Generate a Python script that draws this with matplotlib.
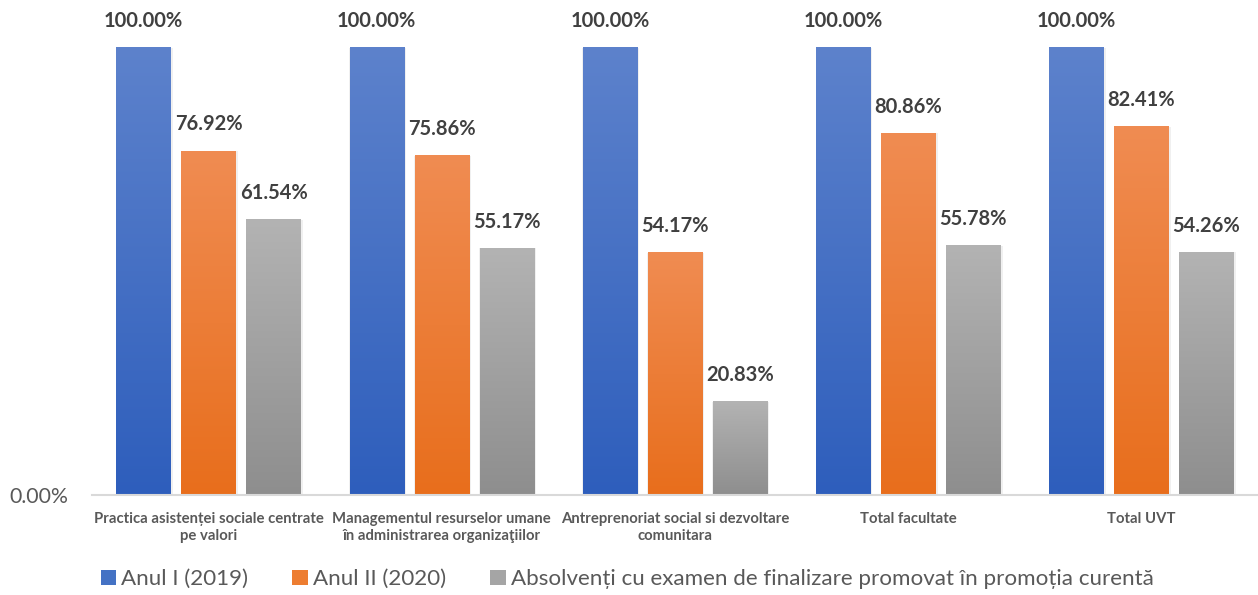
import numpy as np
import matplotlib.pyplot as plt
from matplotlib.colors import LinearSegmentedColormap

# Data
categories = ['Practica asistenței sociale centrate\npe valori',
              'Managementul resurselor umane\nîn administrarea organizaţiilor',
              'Antreprenoriat social si dezvoltare\ncomunitara',
              'Total facultate',
              'Total UVT']
series_names = ['Anul I (2019)', 'Anul II (2020)',
                'Absolvenți cu examen de finalizare promovat în promoția curentă']
anul1 = [100.00, 100.00, 100.00, 100.00, 100.00]
anul2 = [76.92, 75.86, 54.17, 80.86, 82.41]
absolventi = [61.54, 55.17, 20.83, 55.78, 54.26]

# gradient colours (top, bottom) per series
grads = [('#5d82cc', '#2e5ebc'), ('#f08c52', '#e86e1c'), ('#b3b3b3', '#8e8e8e')]
solid = ['#4472c4', '#ed7d31', '#a5a5a5']

plt.rcParams['font.family'] = ['Lato', 'DejaVu Sans']

fig = plt.figure(figsize=(12.58, 5.95), dpi=100)
ax = fig.add_axes([0.073, 0.168, 0.927, 0.832])

x = np.arange(len(categories))
offsets = [-0.279, 0.0, 0.279]
width = 0.232

ax.set_xlim(-0.5, len(categories) - 0.5)
ax.set_ylim(0, 110.7)

for vals, off, (ctop, cbot), name, sc in zip([anul1, anul2, absolventi], offsets, grads,
                                             series_names, solid):
    bars = ax.bar(x + off, vals, width, color=sc, label=name, zorder=2)
    cmap = LinearSegmentedColormap.from_list('g', [cbot, ctop])
    grad = np.linspace(0, 1, 256).reshape(-1, 1)
    for b, v in zip(bars, vals):
        x0, w, h = b.get_x(), b.get_width(), b.get_height()
        # soft shadow
        ax.bar(x0 + w / 2 + 0.004, h, w + 0.012, color='#000000', alpha=0.06, zorder=1)
        ax.imshow(grad, cmap=cmap, origin='lower', aspect='auto',
                  extent=(x0, x0 + w, 0, h), zorder=3, interpolation='bicubic')
        ax.annotate(f'{v:.2f}%', (x0 + w / 2, h), xytext=(0, 12), textcoords='offset points',
                    ha='center', va='bottom', fontsize=14.5, fontweight='bold',
                    color='#404040', annotation_clip=False)

ax.set_xticks(x)
ax.set_xticklabels(categories, fontsize=10.7, fontweight='bold', color='#595959',
                   linespacing=1.3)
ax.set_yticks([0])
ax.set_yticklabels(['0.00%'], fontsize=15.3, color='#595959')
ax.tick_params(axis='both', length=0)
ax.tick_params(axis='x', pad=12)
ax.tick_params(axis='y', pad=17)

for s in ['top', 'right', 'left']:
    ax.spines[s].set_visible(False)
ax.spines['bottom'].set_color('#d9d9d9')
ax.spines['bottom'].set_linewidth(1.5)
ax.spines['bottom'].set_zorder(4)

handles, labels = ax.get_legend_handles_labels()
fig.legend(handles, labels, loc='lower left', bbox_to_anchor=(0.064, -0.024), ncol=3,
           frameon=False, fontsize=16.1, handlelength=0.7, handleheight=0.7,
           handletextpad=0.2, columnspacing=2.0, labelcolor='#595959')

fig.savefig('out.png', dpi=100)
